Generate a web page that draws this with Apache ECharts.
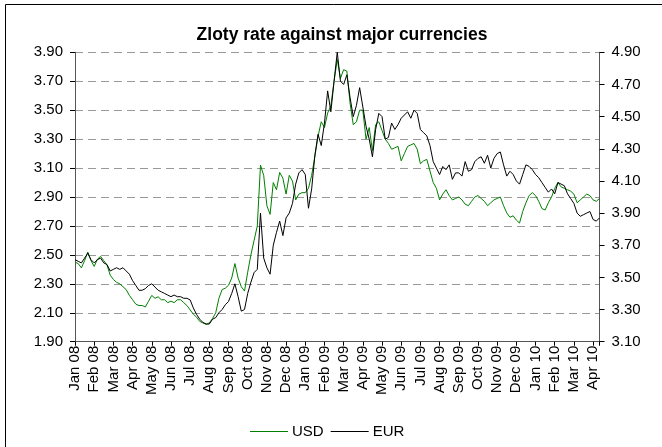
<!DOCTYPE html>
<html>
<head>
<meta charset="utf-8">
<script src="https://cdn.jsdelivr.net/npm/echarts@6/dist/echarts.min.js"></script>
<style>
  html, body { margin: 0; padding: 0; background: #fff; }
  #chart { width: 662px; height: 447px; }
</style>
</head>
<body>
<div id="chart"></div>
<script>
'use strict'

const monthLabels = [
  'Jan 08', 'Feb 08', 'Mar 08', 'Apr 08', 'May 08', 'Jun 08', 'Jul 08',
  'Aug 08', 'Sep 08', 'Oct 08', 'Nov 08', 'Dec 08', 'Jan 09', 'Feb 09',
  'Mar 09', 'Apr 09', 'May 09', 'Jun 09', 'Jul 09', 'Aug 09', 'Sep 09',
  'Oct 09', 'Nov 09', 'Dec 09', 'Jan 10', 'Feb 10', 'Mar 10', 'Apr 10'
]

// readings per month, six per month (roughly every five days)
const SAMPLES_PER_MONTH = 6

const usdRates = [
  2.45, 2.44, 2.41, 2.46, 2.52, 2.46,
  2.42, 2.47, 2.49, 2.46, 2.43, 2.36,
  2.33, 2.31, 2.30, 2.28, 2.26, 2.22,
  2.19, 2.16, 2.15, 2.15, 2.14, 2.18,
  2.22, 2.20, 2.21, 2.19, 2.19, 2.17,
  2.18, 2.17, 2.19, 2.19, 2.17, 2.15,
  2.12, 2.09, 2.07, 2.04, 2.03, 2.02,
  2.03, 2.06, 2.10, 2.20, 2.26, 2.27,
  2.29, 2.34, 2.44, 2.34, 2.28, 2.25,
  2.38, 2.50, 2.60, 2.70, 3.12, 3.05,
  2.84, 2.78, 3.00, 2.95, 3.07, 3.03,
  2.92, 3.05, 3.01, 2.88, 2.92, 2.93,
  2.93, 2.96, 3.05, 3.18, 3.32, 3.42,
  3.38, 3.48, 3.53, 3.70, 3.85, 3.72,
  3.78, 3.77, 3.55, 3.40, 3.42, 3.50,
  3.50, 3.30, 3.38, 3.22, 3.40, 3.42,
  3.36, 3.30, 3.27, 3.23, 3.24, 3.25,
  3.15, 3.20, 3.25, 3.26, 3.27, 3.23,
  3.13, 3.15, 3.16, 3.08, 3.00, 2.96,
  2.88, 2.92, 2.95, 2.91, 2.88, 2.89,
  2.90, 2.88, 2.85, 2.84, 2.87, 2.90,
  2.91, 2.89, 2.87, 2.84, 2.86, 2.88,
  2.89, 2.90, 2.84, 2.79, 2.76, 2.77,
  2.74, 2.72, 2.80, 2.86, 2.91, 2.93,
  2.91, 2.87, 2.82, 2.81, 2.86, 2.90,
  2.96, 3.00, 2.97, 2.96, 2.95, 2.94,
  2.92, 2.86, 2.88, 2.90, 2.92, 2.91,
  2.88, 2.87, 2.89
]

const eurRates = [
  3.61, 3.60, 3.59, 3.62, 3.65, 3.61,
  3.59, 3.61, 3.62, 3.59, 3.58, 3.54,
  3.55, 3.56, 3.55, 3.56, 3.54, 3.52,
  3.48, 3.45, 3.42, 3.42, 3.43, 3.45,
  3.46, 3.44, 3.42, 3.41, 3.40, 3.39,
  3.38, 3.39, 3.38, 3.38, 3.37, 3.37,
  3.36, 3.31, 3.27, 3.24, 3.22, 3.21,
  3.21, 3.24, 3.25, 3.28, 3.30, 3.33,
  3.35, 3.40, 3.46, 3.38, 3.29, 3.30,
  3.40, 3.47, 3.53, 3.55, 3.90, 3.62,
  3.56, 3.52, 3.70, 3.78, 3.85, 3.76,
  3.87, 3.90, 3.96, 4.08, 4.15, 4.17,
  4.14, 3.93, 4.05, 4.26, 4.39, 4.32,
  4.46, 4.66, 4.53, 4.72, 4.90, 4.72,
  4.70, 4.76, 4.62, 4.50, 4.57, 4.68,
  4.56, 4.44, 4.36, 4.25, 4.42, 4.52,
  4.50, 4.36, 4.37, 4.46, 4.42, 4.45,
  4.49, 4.51, 4.53, 4.49, 4.54, 4.52,
  4.42, 4.40, 4.38, 4.32, 4.22, 4.18,
  4.14, 4.19, 4.17, 4.20, 4.11, 4.15,
  4.15, 4.13, 4.22, 4.16, 4.17, 4.22,
  4.24, 4.25, 4.21, 4.26, 4.18, 4.24,
  4.27, 4.28, 4.20, 4.13, 4.16, 4.14,
  4.10, 4.08, 4.14, 4.20, 4.19, 4.17,
  4.14, 4.12, 4.09, 4.06, 4.03, 4.05,
  4.02, 4.09, 4.08, 4.07, 4.02, 3.99,
  3.96, 3.90, 3.88, 3.89, 3.90, 3.91,
  3.86, 3.85, 3.87
]

const FONT = 'Liberation Sans, Arial, sans-serif'
const chart = echarts.init(document.getElementById('chart'))

function toPoints (rates) {
  return rates.map((v, i) => [i / SAMPLES_PER_MONTH, v])
}

const lastX = (usdRates.length - 1) / SAMPLES_PER_MONTH

const option = {
  animation: false,
  backgroundColor: '#fff',
  title: {
    text: 'Zloty rate against major currencies',
    left: 337,
    top: 21,
    textAlign: 'center',
    textStyle: { fontFamily: FONT, fontSize: 17.5, fontWeight: 'bold', color: '#000' }
  },
  legend: {
    data: ['USD', 'EUR'],
    left: 245,
    top: 419,
    icon: 'rect',
    itemWidth: 38,
    itemHeight: 1,
    itemGap: 7,
    textStyle: { fontFamily: FONT, fontSize: 15, color: '#000', padding: [0, 0, 0, -1] }
  },
  grid: { left: 75, right: 62.5, top: 52.3, bottom: 105.3, containLabel: false },
  xAxis: {
    type: 'value',
    min: 0,
    max: lastX,
    interval: 1,
    axisLine: { lineStyle: { color: '#555' } },
    axisTick: { length: 4, lineStyle: { color: '#000' } },
    splitLine: { show: false },
    axisLabel: {
      rotate: 90,
      margin: 4,
      fontFamily: FONT,
      fontSize: 15,
      color: '#000',
      formatter: v => {
        const r = Math.round(v)
        return Math.abs(v - r) < 1e-6 && monthLabels[r] ? monthLabels[r] : ''
      }
    }
  },
  yAxis: [
    {
      type: 'value',
      min: 1.9,
      max: 3.9,
      interval: 0.2,
      axisLine: { show: true, lineStyle: { color: '#555' } },
      axisTick: { show: true, length: 5, lineStyle: { color: '#000' } },
      splitLine: { show: true, lineStyle: { color: '#999', type: [8, 5] } },
      axisLabel: {
        margin: 12,
        fontFamily: FONT,
        fontSize: 15,
        color: '#000',
        formatter: v => v.toFixed(2)
      }
    },
    {
      type: 'value',
      min: 3.1,
      max: 4.9,
      interval: 0.2,
      position: 'right',
      axisLine: { show: true, lineStyle: { color: '#555' } },
      axisTick: { show: true, length: 5, lineStyle: { color: '#000' } },
      splitLine: { show: false },
      axisLabel: {
        margin: 12,
        fontFamily: FONT,
        fontSize: 15,
        color: '#000',
        formatter: v => v.toFixed(2)
      }
    }
  ],
  series: [
    {
      name: 'USD',
      type: 'line',
      yAxisIndex: 0,
      showSymbol: false,
      color: '#008000',
      lineStyle: { width: 1, color: '#008000' },
      data: toPoints(usdRates)
    },
    {
      name: 'EUR',
      type: 'line',
      yAxisIndex: 1,
      showSymbol: false,
      color: '#000',
      lineStyle: { width: 1, color: '#000' },
      data: toPoints(eurRates)
    }
  ],
  // frame of the chart area (top and left edges are visible in the picture)
  graphic: [
    { type: 'line', shape: { x1: 5.5, y1: 4.5, x2: 662, y2: 4.5 }, style: { stroke: '#000', lineWidth: 1 } },
    { type: 'line', shape: { x1: 5.5, y1: 4.5, x2: 5.5, y2: 447 }, style: { stroke: '#000', lineWidth: 1 } }
  ]
}

chart.setOption(option)
</script>
</body>
</html>
